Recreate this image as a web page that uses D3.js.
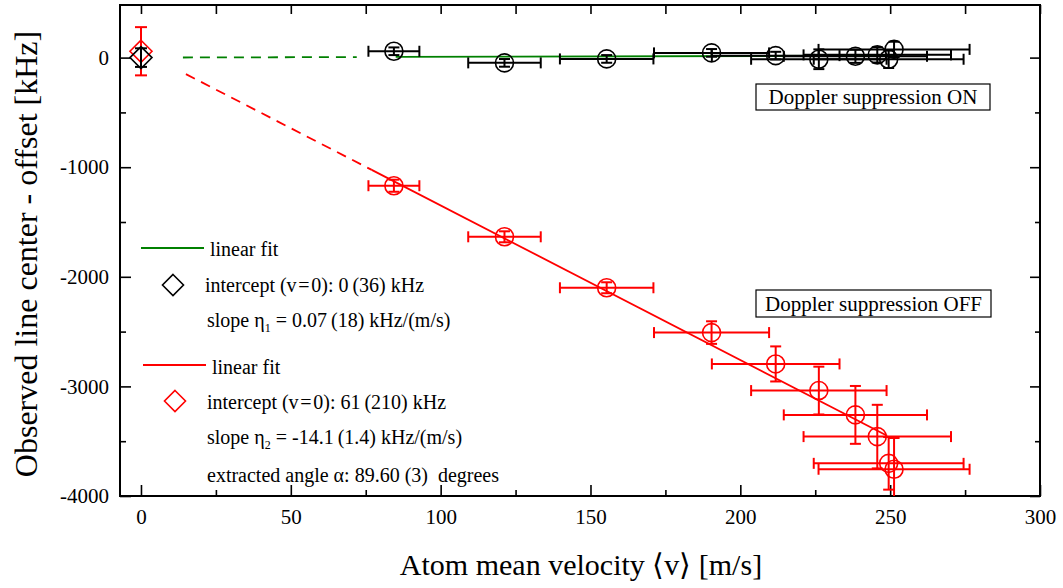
<!DOCTYPE html>
<html><head><meta charset="utf-8">
<script src="https://cdn.jsdelivr.net/npm/d3@7"></script>
<style>
body{margin:0;background:#fff}
text{font-family:"Liberation Serif","Times New Roman",serif;fill:#000}
</style>
</head><body><svg id="c" width="1063" height="588"></svg>
<script>
// ---- data ----
const velocity    = [84.4,121.3,155.4,190.4,211.8,226.2,238.4,245.7,249.5,251.3];
const velocityErr = [8.5,12.1,15.6,19.2,21.3,22.6,23.9,24.6,25.0,25.2];
const onCenter    = [58,-48,-12,43,18,-15,12,25,-15,75];
const onErr       = [35,35,35,35,35,90,60,70,80,70];
const offCenter   = [-1169,-1635,-2100,-2509,-2795,-3038,-3260,-3458,-3702,-3756];
const offErr      = [55,50,50,103,160,218,264,290,240,285];
const interceptOn  = [0, 85];    // value, error at v=0
const interceptOff = [58, 220];
const fitSlopes     = [0.07, -14.1];
const fitIntercepts = [0, 61];
const dashedRanges  = [[14,72],[15,77]];
const solidRanges   = [[85,252],[77,249]];
const xTicks = [0,50,100,150,200,250,300];
const xMinor = [25,75,125,175,225,275];
const yTicks = [0,-1000,-2000,-3000,-4000];
const yMinor = [-500,-1500,-2500,-3500];

const svg = d3.select("#c");
const L=120,R=1040,T=5,B=496;
const x = d3.scaleLinear([-7,300],[L,R]);
const y = d3.scaleLinear([-4000,480],[B,T]);

svg.append("clipPath").attr("id","clip").append("rect")
  .attr("x",L).attr("y",T).attr("width",R-L).attr("height",B-T);

// axes
function styleAxis(g){ g.select(".domain").remove(); g.selectAll("line").attr("stroke","#000").attr("stroke-width",1.6); }
const fs = 21;
const fmt = d => String(d);
svg.append("g").attr("transform",`translate(0,${B})`)
  .call(d3.axisBottom(x).tickValues(xTicks).tickSize(-11).tickPadding(13).tickFormat(fmt))
  .call(styleAxis).selectAll("text").attr("font-size",fs).attr("font-family","Liberation Serif");
svg.append("g").attr("transform",`translate(0,${B})`)
  .call(d3.axisBottom(x).tickValues(xMinor).tickSize(-6).tickFormat(""))
  .call(styleAxis);
svg.append("g").attr("transform",`translate(0,${T})`)
  .call(d3.axisTop(x).tickValues(xTicks.concat(xMinor)).tickSize(-9).tickFormat(""))
  .call(styleAxis);
svg.append("g").attr("transform",`translate(${L},0)`)
  .call(d3.axisLeft(y).tickValues(yTicks).tickSize(-11).tickPadding(11).tickFormat(fmt))
  .call(styleAxis).selectAll("text").attr("font-size",fs).attr("font-family","Liberation Serif");
svg.append("g").attr("transform",`translate(${L},0)`)
  .call(d3.axisLeft(y).tickValues(yMinor).tickSize(-6).tickFormat(""))
  .call(styleAxis);
svg.append("g").attr("transform",`translate(${R},0)`)
  .call(d3.axisRight(y).tickValues(yTicks).tickSize(-10).tickFormat(""))
  .call(styleAxis);
svg.append("g").attr("transform",`translate(${R},0)`)
  .call(d3.axisRight(y).tickValues(yMinor).tickSize(-5).tickFormat(""))
  .call(styleAxis);
svg.append("rect").attr("x",L).attr("y",T).attr("width",R-L).attr("height",B-T)
  .attr("fill","none").attr("stroke","#000").attr("stroke-width",2);

// axis titles
svg.append("text").attr("x",581).attr("y",575).attr("text-anchor","middle")
  .attr("font-size",30).text("Atom mean velocity \u27E8v\u27E9 [m/s]");
svg.append("text").attr("transform","translate(37,254) rotate(-90)").attr("text-anchor","middle")
  .attr("font-size",32).text("Observed line center - offset [kHz]");

const plot = svg.append("g").attr("clip-path","url(#clip)");

// fit lines
const colors = ["#008000","#ff0000"];
[0,1].forEach(i=>{
  const f = v => fitIntercepts[i] + fitSlopes[i]*v;
  const d = dashedRanges[i], s = solidRanges[i];
  plot.append("line").attr("x1",x(d[0])).attr("y1",y(f(d[0]))).attr("x2",x(d[1])).attr("y2",y(f(d[1])))
    .attr("stroke",colors[i]).attr("stroke-width",1.8).attr("stroke-dasharray","10,7");
  plot.append("line").attr("x1",x(s[0])).attr("y1",y(f(s[0]))).attr("x2",x(s[1])).attr("y2",y(f(s[1])))
    .attr("stroke",colors[i]).attr("stroke-width",1.8);
});

// points with error bars
function drawSeries(vals, errs, color){
  const g = plot.append("g").attr("stroke",color).attr("fill","none").attr("stroke-width",1.6);
  velocity.forEach((v,i)=>{
    const cx=x(v), cy=y(vals[i]);
    const x0=x(v-velocityErr[i]), x1=x(v+velocityErr[i]);
    const y0=y(vals[i]+errs[i]), y1=y(vals[i]-errs[i]);
    g.append("line").attr("x1",x0).attr("x2",x1).attr("y1",cy).attr("y2",cy).attr("stroke-width",2);
    g.append("line").attr("x1",x0).attr("x2",x0).attr("y1",cy-5.5).attr("y2",cy+5.5).attr("stroke-width",2);
    g.append("line").attr("x1",x1).attr("x2",x1).attr("y1",cy-5.5).attr("y2",cy+5.5).attr("stroke-width",2);
    g.append("line").attr("x1",cx).attr("x2",cx).attr("y1",y0).attr("y2",y1).attr("stroke-width",2);
    g.append("line").attr("x1",cx-5.5).attr("x2",cx+5.5).attr("y1",y0).attr("y2",y0).attr("stroke-width",2);
    g.append("line").attr("x1",cx-5.5).attr("x2",cx+5.5).attr("y1",y1).attr("y2",y1).attr("stroke-width",2);
    g.append("circle").attr("cx",cx).attr("cy",cy).attr("r",9);
  });
}
drawSeries(offCenter, offErr, "#ff0000");
drawSeries(onCenter, onErr, "#000");

function diamond(g, cx, cy, h, color){
  g.append("path").attr("d",`M${cx},${cy-h}L${cx+h},${cy}L${cx},${cy+h}L${cx-h},${cy}Z`)
    .attr("fill","none").attr("stroke",color).attr("stroke-width",1.6);
}
[[interceptOff,"#ff0000"],[interceptOn,"#000"]].forEach(([p,c])=>{
  const g = plot.append("g").attr("stroke",c).attr("stroke-width",2);
  const cx=x(0), cy=y(p[0]), y0=y(p[0]+p[1]), y1=y(p[0]-p[1]);
  g.append("line").attr("x1",cx).attr("x2",cx).attr("y1",y0).attr("y2",y1);
  g.append("line").attr("x1",cx-6).attr("x2",cx+6).attr("y1",y0).attr("y2",y0);
  g.append("line").attr("x1",cx-6).attr("x2",cx+6).attr("y1",y1).attr("y2",y1);
  diamond(plot, cx, cy, 11, c);
});

// annotation boxes
function box(x0,y0,w,h,label){
  svg.append("rect").attr("x",x0).attr("y",y0).attr("width",w).attr("height",h)
    .attr("fill","#fff").attr("stroke","#000").attr("stroke-width",1.2);
  svg.append("text").attr("x",x0+w/2).attr("y",y0+h/2+7).attr("text-anchor","middle")
    .attr("font-size",21).text(label);
}
box(756,84,234,26,"Doppler suppression ON");
box(756,290,235,27,"Doppler suppression OFF");

// legend
const lg = svg.append("g").attr("font-size",20);
lg.append("line").attr("x1",141).attr("x2",204).attr("y1",248).attr("y2",248).attr("stroke","#008000").attr("stroke-width",1.8);
lg.append("text").attr("x",210).attr("y",256).text("linear fit");
diamond(lg,173,285,10.5,"#000");
lg.append("text").attr("x",205).attr("y",292).text("intercept (v\u200A=\u200A0): 0\u2009(36) kHz");
const t1 = lg.append("text").attr("x",207).attr("y",327);
t1.append("tspan").text("slope \u03B7");
t1.append("tspan").attr("font-size",12).attr("dy",5).text("1");
t1.append("tspan").attr("dy",-5).text(" = 0.07\u2009(18) kHz/(m/s)");
lg.append("line").attr("x1",143).attr("x2",206).attr("y1",365).attr("y2",365).attr("stroke","#ff0000").attr("stroke-width",1.8);
lg.append("text").attr("x",212).attr("y",374).text("linear fit");
diamond(lg,175,401,10.5,"#ff0000");
lg.append("text").attr("x",207).attr("y",409).text("intercept (v\u200A=\u200A0): 61\u2009(210) kHz");
const t2 = lg.append("text").attr("x",207).attr("y",444);
t2.append("tspan").text("slope \u03B7");
t2.append("tspan").attr("font-size",12).attr("dy",5).text("2");
t2.append("tspan").attr("dy",-5).text(" = -14.1\u2009(1.4) kHz/(m/s)");
lg.append("text").attr("x",207).attr("y",482).text("extracted angle \u03B1: 89.60 (3)  degrees").style("white-space","pre");
</script></body></html>
